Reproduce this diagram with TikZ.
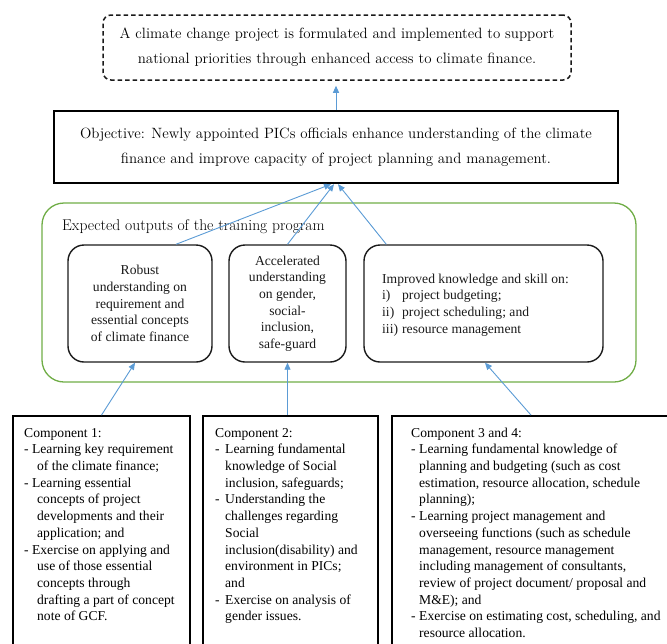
\documentclass[tikz,border=0pt]{standalone}
\usepackage{fontspec}
\newfontfamily\tms{Liberation Serif}
\usetikzlibrary{arrows.meta}
\definecolor{arrowblue}{HTML}{5B9BD5}
\definecolor{outgreen}{HTML}{70AD47}
\definecolor{ink}{HTML}{1A1A1A}
\newcommand\bul[1]{\makebox[#1][l]{-}}
\newcommand\ind[1]{\hspace*{#1}}
\tikzset{
  cent/.style={font=\fontsize{14.9}{25}\selectfont, text=black},
  tmsbig/.style={font=\tms\fontsize{13.6}{16.7}\selectfont, text=ink},
  tmssmall/.style={font=\tms\fontsize{13.6}{16.7}\selectfont, text=black},
  goalbox/.style={draw=ink, line width=1.5pt, dash pattern=on 4.5pt off 3pt, rounded corners=8pt, inner sep=0pt, align=center, cent},
  objbox/.style={draw=black, line width=2.4pt, inner sep=0pt, align=center, cent},
  greenbox/.style={draw=outgreen, line width=1.3pt, rounded corners=22pt, inner sep=0pt},
  outbox/.style={draw=ink, line width=1.4pt, rounded corners=16pt, inner sep=0pt, align=center, tmsbig},
  compbox/.style={draw=black, line width=1.8pt, inner sep=0pt},
  comptext/.style={anchor=north west, inner sep=0pt, align=left, tmssmall},
  arr/.style={draw=arrowblue, line width=0.9pt, -{Triangle[length=7pt,width=6pt]}}
}
\begin{document}
\begin{tikzpicture}[x=1pt,y=-1pt]
\useasboundingbox (0,0) rectangle (667,643);
\clip (0,0) rectangle (667,643);

% goal and objective
\node[goalbox, minimum width=468, minimum height=65] (goal) at (337,47.5)
  {A climate change project is formulated and implemented to support\\
   national priorities through enhanced access to climate finance.};
\node[objbox, minimum width=564, minimum height=72] (obj) at (336,147)
  {Objective: Newly appointed PICs officials enhance understanding of the climate\\
   finance and improve capacity of project planning and management.};

% expected outputs
\node[greenbox, minimum width=594, minimum height=179] (green) at (339,292.5) {};
\node[cent, font=\fontsize{15.6}{25}\selectfont, anchor=base west, inner sep=0pt] (greentitle) at (62,230)
  {Expected outputs of the training program};

\node[outbox, minimum width=144, minimum height=117] (b1) at (140,303.5)
  {Robust\\understanding on\\requirement and\\essential concepts\\of climate finance};
\node[outbox, minimum width=117, minimum height=117] (b2) at (287.5,303.5)
  {Accelerated\\understanding\\on gender,\\social-\\inclusion,\\safe-guard};
\node[outbox, minimum width=239, minimum height=117] (b3) at (483.5,303.5) {};
\node[tmsbig, anchor=west, align=left, inner sep=0pt] (b3t) at (382,305)
  {Improved knowledge and skill on:\\
   \makebox[20pt][l]{i)}project budgeting;\\
   \makebox[20pt][l]{ii)}project scheduling; and\\
   \makebox[20pt][l]{iii)}resource management};

% components
\node[compbox, minimum width=177, minimum height=244] (c1) at (101.5,538) {};
\node[compbox, minimum width=175, minimum height=244] (c2) at (290.5,538) {};
\node[compbox, minimum width=298, minimum height=244] (c3) at (541,538) {};

\node[comptext] (c1t) at (24,425.3)
  {\strut Component 1:\\
   - Learning key requirement\\
   \ind{13pt}of the climate finance;\\
   - Learning essential\\
   \ind{13pt}concepts of project\\
   \ind{13pt}developments and their\\
   \ind{13pt}application; and\\
   - Exercise on applying and\\
   \ind{13pt}use of those essential\\
   \ind{13pt}concepts through\\
   \ind{13pt}drafting a part of concept\\
   \ind{13pt}note of GCF.};
\node[comptext] (c2t) at (215,425.3)
  {\strut Component 2:\\
   \bul{10pt}Learning fundamental\\
   \ind{10pt}knowledge of Social\\
   \ind{10pt}inclusion, safeguards;\\
   \bul{10pt}Understanding the\\
   \ind{10pt}challenges regarding\\
   \ind{10pt}Social\\
   \ind{10pt}inclusion(disability) and\\
   \ind{10pt}environment in PICs;\\
   \ind{10pt}and\\
   \bul{10pt}Exercise on analysis of\\
   \ind{10pt}gender issues.};
\node[comptext] (c3t) at (411,425.3)
  {\strut Component 3 and 4:\\
   \bul{8pt}Learning fundamental knowledge of\\
   \ind{8pt}planning and budgeting (such as cost\\
   \ind{8pt}estimation, resource allocation, schedule\\
   \ind{8pt}planning);\\
   \bul{8pt}Learning project management and\\
   \ind{8pt}overseeing functions (such as schedule\\
   \ind{8pt}management, resource management\\
   \ind{8pt}including management of consultants,\\
   \ind{8pt}review of project document/ proposal and\\
   \ind{8pt}M\&E); and\\
   \bul{8pt}Exercise on estimating cost, scheduling, and\\
   \ind{8pt}resource allocation.};

% connectors
\draw[arr, shorten >=5pt] (obj.north) -- (goal.south -| obj.north);
\draw[arr] ([xshift=36pt]b1.north) -- ([xshift=-5pt]obj.south);
\draw[arr] (b2.north) -- ([xshift=-2pt]obj.south);
\draw[arr] ([xshift=23pt]b3.north west) -- ([xshift=2pt]obj.south);
\draw[arr] (c1.north) -- ([xshift=-5pt]b1.south);
\draw[arr] (c2.north -| b2.south) -- (b2.south);
\draw[arr] ([xshift=-10pt]c3.north) -- ([xshift=1.5pt]b3.south);
\end{tikzpicture}
\end{document}
